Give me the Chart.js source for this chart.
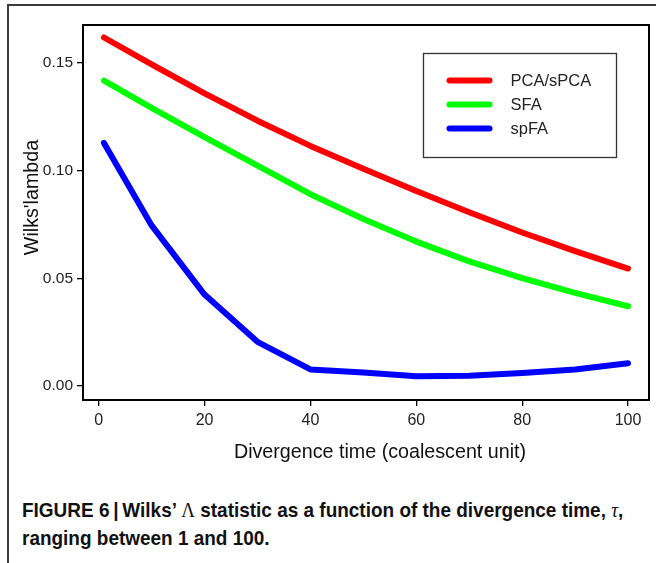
<!DOCTYPE html>
<html>
<head>
<meta charset="utf-8">
<script src="https://cdn.jsdelivr.net/npm/chart.js@4.4.1/dist/chart.umd.min.js"></script>
<style>
  html, body { margin: 0; padding: 0; background: #fff; }
  body { width: 656px; height: 563px; position: relative; overflow: hidden; }
  #frame {
    position: absolute; left: 7px; top: 4px; width: 700px; height: 620px;
    border: 2px solid #3c3c3c; box-sizing: border-box;
  }
  #plot { position: absolute; left: 0; top: 0; }
  #caption {
    position: absolute; left: 22px; top: 496px; width: 680px;
    font-family: "Liberation Sans Narrow", "Liberation Sans", sans-serif;
    font-weight: bold; font-size: 20.5px; line-height: 27px; color: #111;
    white-space: nowrap;
    transform: scaleX(0.925); transform-origin: left top;
  }
  #caption .sym { font-family: "Liberation Serif", serif; font-weight: normal; }
  #caption .it { font-family: "Liberation Serif", serif; font-weight: normal; font-style: italic; }
</style>
</head>
<body>
<div id="frame"></div>
<canvas id="plot" width="656" height="480"></canvas>
<div id="caption">FIGURE 6&thinsp;|&thinsp;Wilks’ <span class="sym">Λ</span> statistic as a function of the divergence time, <span class="it">τ</span>,<br>ranging between 1 and 100.</div>
<script>
// Divergence times (coalescent units) at which Wilks' lambda was evaluated
const divergenceTimes = [1, 10, 20, 30, 40, 50, 60, 70, 80, 90, 100];

// Wilks' lambda for each method
const pcaValues  = [0.1617, 0.1492, 0.1358, 0.1231, 0.1114, 0.1008, 0.0905, 0.0806, 0.0712, 0.0626, 0.0545];
const sfaValues  = [0.1417, 0.1290, 0.1155, 0.1022, 0.0890, 0.0775, 0.0670, 0.0578, 0.0500, 0.0432, 0.0370];
const spfaValues = [0.1128, 0.0745, 0.0424, 0.0205, 0.0077, 0.0063, 0.0045, 0.0047, 0.0060, 0.0077, 0.0106];

const seriesLabels = ["PCA/sPCA", "SFA", "spFA"];
const seriesColors = ["#ff0000", "#00ff00", "#0000ff"];

// Axis ticks and titles
const xTickValues = [0, 20, 40, 60, 80, 100];
const yTickValues = [0, 0.05, 0.10, 0.15];
const xAxisTitle = "Divergence time (coalescent unit)";
const yAxisTitle = "Wilks'lambda";

const FONT = "'Liberation Sans', Arial, sans-serif";

function toPoints(values) {
  return values.map((v, i) => ({ x: divergenceTimes[i], y: v }));
}

// Closed frame around the plotting region
const boxPlugin = {
  id: 'plotBox',
  afterDraw(chart) {
    const { ctx, chartArea: a } = chart;
    ctx.save();
    ctx.strokeStyle = '#000';
    ctx.lineWidth = 2;
    ctx.strokeRect(a.left, a.top, a.right - a.left, a.bottom - a.top);
    ctx.restore();
  }
};

// Axis titles
const axisTitlePlugin = {
  id: 'axisTitles',
  afterDraw(chart) {
    const { ctx, chartArea: a } = chart;
    ctx.save();
    ctx.fillStyle = '#111';
    ctx.font = "19.7px " + FONT;
    ctx.textAlign = 'center';
    ctx.textBaseline = 'middle';
    ctx.fillText(xAxisTitle, (a.left + a.right) / 2 + 14, a.bottom + 53);
    ctx.translate(a.left - 50, (a.top + a.bottom) / 2 - 15);
    ctx.rotate(-Math.PI / 2);
    ctx.fillText(yAxisTitle, 0, 0);
    ctx.restore();
  }
};

// Boxed legend inside the upper-right of the plotting region
const boxedLegendPlugin = {
  id: 'boxedLegend',
  afterDraw(chart) {
    const { ctx, chartArea: a } = chart;
    const bx = a.right - 225.5, by = a.top + 28.5, bw = 193, bh = 104;
    ctx.save();
    ctx.fillStyle = '#fff';
    ctx.fillRect(bx, by, bw, bh);
    ctx.strokeStyle = '#333';
    ctx.lineWidth = 1.3;
    ctx.strokeRect(bx, by, bw, bh);
    ctx.font = "16.5px " + FONT;
    ctx.textBaseline = 'middle';
    ctx.textAlign = 'left';
    chart.data.datasets.forEach((ds, i) => {
      const y = by + 27 + i * 24;
      ctx.strokeStyle = ds.borderColor;
      ctx.lineWidth = 6;
      ctx.lineCap = 'round';
      ctx.beginPath();
      ctx.moveTo(bx + 26, y);
      ctx.lineTo(bx + 66, y);
      ctx.stroke();
      ctx.fillStyle = '#222';
      ctx.fillText(ds.label, bx + 87, y + 1);
    });
    ctx.restore();
  }
};

const valueSets = [pcaValues, sfaValues, spfaValues];

new Chart(document.getElementById('plot'), {
  type: 'line',
  data: {
    datasets: valueSets.map((vals, i) => ({
      label: seriesLabels[i],
      data: toPoints(vals),
      borderColor: seriesColors[i],
      backgroundColor: seriesColors[i],
      borderWidth: 6,
      borderCapStyle: 'round',
      borderJoinStyle: 'round',
      pointRadius: 0,
      tension: 0,
      fill: false
    }))
  },
  options: {
    responsive: false,
    devicePixelRatio: 1,
    animation: false,
    layout: { padding: { top: 25, right: 7, left: 0, bottom: 0 } },
    plugins: { legend: { display: false }, tooltip: { enabled: false } },
    scales: {
      x: {
        type: 'linear',
        min: -2.96,
        max: 103.96,
        afterBuildTicks: (s) => { s.ticks = xTickValues.map(v => ({ value: v })); },
        afterFit: (s) => { s.height = 80; },
        grid: { drawOnChartArea: false, drawTicks: true, tickLength: 6, color: '#000', lineWidth: 1.3 },
        border: { display: true, color: '#000', width: 2 },
        ticks: {
          autoSkip: false, maxRotation: 0, padding: 5, color: '#222',
          font: { family: FONT, size: 16 },
          callback: (v) => String(v)
        }
      },
      y: {
        type: 'linear',
        min: -0.0065,
        max: 0.1675,
        afterBuildTicks: (s) => { s.ticks = yTickValues.map(v => ({ value: v })); },
        afterFit: (s) => { s.width = 83; },
        grid: { drawOnChartArea: false, drawTicks: true, tickLength: 6, color: '#000', lineWidth: 1.3 },
        border: { display: true, color: '#000', width: 2 },
        ticks: {
          autoSkip: false, padding: 4, color: '#222',
          font: { family: FONT, size: 15.5 },
          callback: (v) => Number(v).toFixed(2)
        }
      }
    }
  },
  plugins: [boxPlugin, axisTitlePlugin, boxedLegendPlugin]
});
</script>
</body>
</html>
